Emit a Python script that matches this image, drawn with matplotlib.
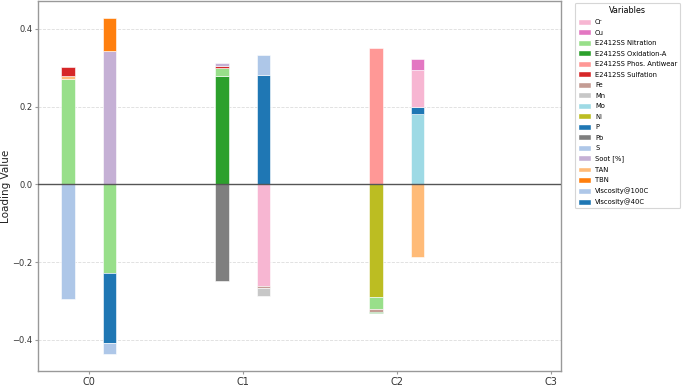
import matplotlib
matplotlib.use("Agg")
import matplotlib.pyplot as plt
from matplotlib.patches import Patch

components = ["C0", "C1", "C2", "C3"]

variables = ["Cr", "Cu", "E2412SS Nitration", "E2412SS Oxidation-A",
             "E2412SS Phos. Antiwear", "E2412SS Sulfation", "Fe", "Mn", "Mo",
             "Ni", "P", "Pb", "S", "Soot [%]", "TAN", "TBN",
             "Viscosity@100C", "Viscosity@40C"]
colors = ["#f7b6d2", "#e377c2", "#98df8a", "#2ca02c", "#ff9896", "#d62728",
          "#c49c94", "#c7c7c7", "#9edae5", "#bcbd22", "#1f77b4", "#7f7f7f",
          "#aec7e8", "#c5b0d5", "#ffbb78", "#ff7f0e", "#aec7e8", "#1f77b4"]

# each bar: component index, slot (0 = left, 1 = right), stacked segments
bar_component = [0, 0, 1, 1, 2, 2]
bar_slot = [0, 1, 0, 1, 0, 1]
bar_vars = [
    ["E2412SS Nitration", "TAN", "E2412SS Sulfation", "S"],
    ["Soot [%]", "TBN", "E2412SS Nitration", "Viscosity@40C", "Viscosity@100C"],
    ["E2412SS Oxidation-A", "E2412SS Nitration", "E2412SS Sulfation", "Soot [%]", "Pb"],
    ["P", "S", "Cr", "Fe", "Mn"],
    ["E2412SS Phos. Antiwear", "Ni", "E2412SS Nitration", "Fe", "E2412SS Oxidation-A"],
    ["Mo", "P", "Cr", "Cu", "TAN"],
]
bar_vals = [
    [0.272, 0.006, 0.025, -0.295],
    [0.344, 0.083, -0.227, -0.180, -0.030],
    [0.279, 0.021, 0.005, 0.007, -0.248],
    [0.282, 0.050, -0.262, -0.004, -0.020],
    [0.350, -0.290, -0.031, -0.006, -0.004],
    [0.181, 0.017, 0.096, 0.028, -0.187],
]

color_of = dict(zip(variables, colors))

fig = plt.figure(figsize=(6.85, 3.86), dpi=100)
ax = fig.add_axes([38 / 685, 1 - 371 / 386, (561 - 38) / 685, 370 / 386])

offset = 0.135
width = 0.088
for comp, slot, vs, vals in zip(bar_component, bar_slot, bar_vars, bar_vals):
    x = comp + (-offset if slot == 0 else offset)
    pos_bottom = 0.0
    neg_bottom = 0.0
    for v, val in zip(vs, vals):
        if val >= 0:
            ax.bar(x, val, width=width, bottom=pos_bottom, color=color_of[v],
                   edgecolor="white", linewidth=0.4, zorder=3)
            pos_bottom += val
        else:
            ax.bar(x, val, width=width, bottom=neg_bottom, color=color_of[v],
                   edgecolor="white", linewidth=0.4, zorder=3)
            neg_bottom += val

ax.axhline(0, color="#555555", linewidth=1.0, zorder=4)
ax.set_xlim(-0.331, 3.067)
ax.set_ylim(-0.48, 0.472)
ax.set_xticks(range(len(components)))
ax.set_xticklabels(components, fontsize=7, color="#333333")
ax.set_yticks([-0.4, -0.2, 0.0, 0.2, 0.4])
ax.set_yticklabels(["\u22120.4", "\u22120.2", "0.0", "0.2", "0.4"], fontsize=6, color="#333333")
ax.set_ylabel("Loading Value", fontsize=7.5, color="#222222", labelpad=1)
ax.yaxis.grid(True, linestyle="--", color="#dddddd", linewidth=0.6, zorder=0)
ax.set_axisbelow(True)
for s in ax.spines.values():
    s.set_color("#999999")
    s.set_linewidth(1.0)
ax.tick_params(axis="both", length=2.5, width=0.8, color="#999999", pad=1.5)

handles = [Patch(facecolor=c, edgecolor="white", label=v) for v, c in zip(variables, colors)]
leg = fig.legend(handles=handles, title="Variables", loc="upper left",
                 bbox_to_anchor=(575 / 685, 1 - 3 / 386), fontsize=4.9,
                 title_fontsize=5.8, frameon=True, borderaxespad=0.0,
                 handlelength=2.0, handleheight=0.95, labelspacing=0.62,
                 handletextpad=0.55, borderpad=0.4)
leg.get_frame().set_edgecolor("#cccccc")
leg.get_frame().set_linewidth(0.8)

fig.savefig("out.png", dpi=100)
